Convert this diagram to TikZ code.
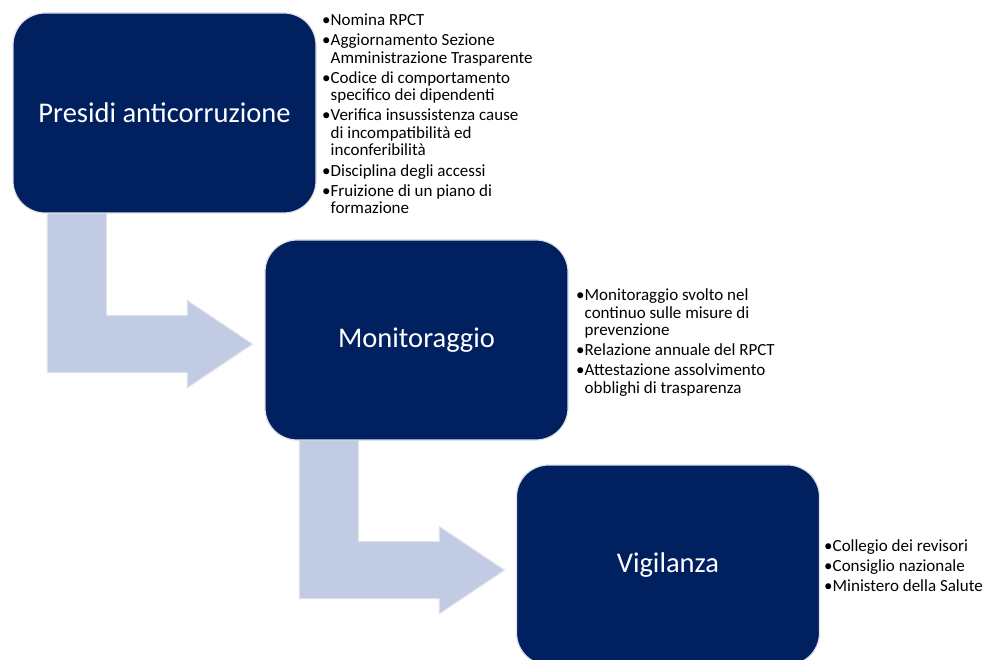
\documentclass[tikz,border=0pt]{standalone}
\usepackage{fontspec}
\setmainfont{Carlito}
\definecolor{navy}{RGB}{0,32,96}
\definecolor{arrowfill}{RGB}{193,203,228}
\definecolor{edgecol}{RGB}{222,225,232}
\pgfdeclarelayer{back}
\pgfsetlayers{back,main}
\newcommand\bitem[1]{\par\noindent\hangindent=8.5pt\hangafter=1\makebox[8.5pt][l]{\rule{0pt}{12pt}•}#1}
\newcommand\blist[1]{\parbox[t]{250pt}{\fontsize{17}{17.5}\selectfont\setlength{\parskip}{2.6pt}\raggedright #1\par}}
\newcommand\bentarrowpath{(0,0) -- (59,0) -- (59,110) -- (140,110) -- (140,95) -- (205,138.5) -- (140,182) -- (140,167) -- (0,167) -- cycle}
\begin{document}
\begin{tikzpicture}[x=1pt,y=-1pt,
  stage/.style={draw=edgecol, line width=1.2pt, fill=navy, rounded corners=32pt,
    minimum width=303pt, minimum height=200pt, text=white, inner sep=0pt,
    font=\fontsize{28.5}{34}\selectfont},
  bentarrow/.style={fill=arrowfill, draw=edgecol, line width=1pt},
  bullets/.style={anchor=north west, inner sep=0pt, text=black}
]
\path[use as bounding box] (0,0) rectangle (985,660);

\node[stage] (b1) at (164.5,113) {Presidi anticorruzione};
\node[stage] (b2) at (416.5,340) {Monitoraggio};
\node[stage] (b3) at (668,565) {Vigilanza};

\coordinate (a1) at ([shift={(35,-8)}]b1.south west);
\coordinate (a2) at ([shift={(35,-9)}]b2.south west);
\begin{pgfonlayer}{back}
  \fill[white] (0,0) rectangle (985,660);
  \draw[bentarrow, shift={(a1)}] \bentarrowpath;
  \draw[bentarrow, shift={(a2)}] \bentarrowpath;
\end{pgfonlayer}

\node[bullets] (l1) at (322,13.5) {\blist{%
  \bitem{Nomina RPCT}
  \bitem{Aggiornamento Sezione\newline Amministrazione Trasparente}
  \bitem{Codice di comportamento\newline specifico dei dipendenti}
  \bitem{Verifica insussistenza cause\newline di incompatibilità ed\newline inconferibilità}
  \bitem{Disciplina degli accessi}
  \bitem{Fruizione di un piano di\newline formazione}}};

\node[bullets] (l2) at (576,288.5) {\blist{%
  \bitem{Monitoraggio svolto nel\newline continuo sulle misure di\newline prevenzione}
  \bitem{Relazione annuale del RPCT}
  \bitem{Attestazione assolvimento\newline obblighi di trasparenza}}};

\node[bullets] (l3) at (824,539.5) {\blist{%
  \bitem{Collegio dei revisori}
  \bitem{Consiglio nazionale}
  \bitem{Ministero della Salute}}};
\end{tikzpicture}
\end{document}
